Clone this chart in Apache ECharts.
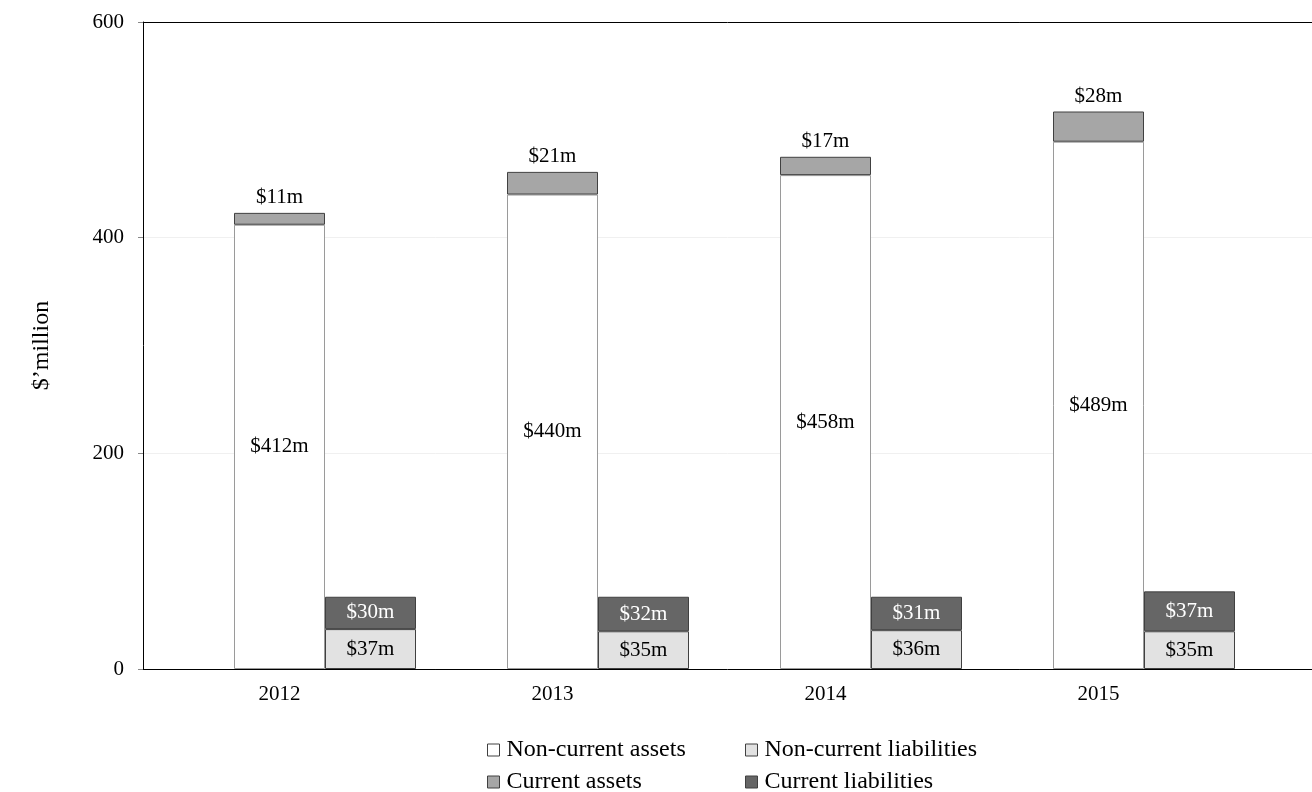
<!DOCTYPE html>
<html>
<head>
<meta charset="utf-8">
<title>Assets and liabilities</title>
<script src="https://cdn.jsdelivr.net/npm/echarts@6/dist/echarts.min.js"></script>
<style>
  html, body { margin: 0; padding: 0; background: #ffffff; }
  #chart { width: 1312px; height: 792px; }
</style>
</head>
<body>
<div id="chart"></div>
<script>
// Balance sheet summary, $ million
const years = ['2012', '2013', '2014', '2015'];
const nonCurrentAssets = [412, 440, 458, 489];
const currentAssets = [11, 21, 17, 28];
const nonCurrentLiabilities = [37, 35, 36, 35];
const currentLiabilities = [30, 32, 31, 37];
const yTicks = [0, 200, 400, 600];

const FONT = "'Liberation Serif', 'Times New Roman', serif";
const LABEL_SIZE = 21;
const LEGEND_SIZE = 24;
const BAR_W = 91;
const money = p => '$' + p.value + 'm';

const chart = echarts.init(document.getElementById('chart'));

const labelStyle = (color, position, distance) => ({
  show: true,
  position: position,
  distance: distance || 5,
  formatter: money,
  color: color,
  fontFamily: FONT,
  fontSize: LABEL_SIZE
});

// one legend box per entry, laid out as a 2 x 2 block
const legendEntry = (name, left, top) => ({
  left: left, top: top, orient: 'horizontal',
  itemWidth: 12, itemHeight: 12, icon: 'rect', padding: 0,
  textStyle: { fontFamily: FONT, fontSize: LEGEND_SIZE, lineHeight: 24, color: '#000', padding: [0, 0, 0, 2] },
  data: [{ name: name, itemStyle: { borderColor: '#404040', borderWidth: 1 } }]
});

chart.setOption({
  animation: false,
  backgroundColor: '#ffffff',
  textStyle: { fontFamily: FONT },
  grid: [
    // frame, gridlines and value axis
    { left: 143, right: 0, top: 22, bottom: 123 },
    // bar area: four year bands
    { left: 143, right: 77, top: 22, bottom: 123 }
  ],
  legend: [
    legendEntry('Non-current assets', 487, 738),
    legendEntry('Current assets', 487, 770),
    legendEntry('Non-current liabilities', 745, 738),
    legendEntry('Current liabilities', 745, 770)
  ],
  xAxis: [
    {
      gridIndex: 0, type: 'value', min: 0, max: 1, position: 'bottom',
      axisLine: { show: true, lineStyle: { color: '#000', width: 1 } },
      axisTick: { show: false }, axisLabel: { show: false }, splitLine: { show: false }
    },
    {
      gridIndex: 0, type: 'value', min: 0, max: 1, position: 'top',
      axisLine: { show: true, lineStyle: { color: '#000', width: 1 } },
      axisTick: { show: false }, axisLabel: { show: false }, splitLine: { show: false }
    },
    {
      gridIndex: 1, type: 'category', data: years,
      axisLine: { show: false }, axisTick: { show: false },
      axisLabel: { color: '#000', fontFamily: FONT, fontSize: LABEL_SIZE, margin: 15 },
      splitLine: { show: false }
    }
  ],
  yAxis: [
    {
      gridIndex: 0, type: 'value', min: yTicks[0], max: yTicks[yTicks.length - 1], interval: 200,
      name: '$\u2019million', nameLocation: 'middle', nameRotate: 90, nameGap: 89,
      nameTextStyle: { color: '#000', fontFamily: FONT, fontSize: LEGEND_SIZE },
      axisLine: { show: true, lineStyle: { color: '#000', width: 1 } },
      axisTick: { show: true, length: 5, lineStyle: { color: '#888' } },
      axisLabel: { color: '#000', fontFamily: FONT, fontSize: LABEL_SIZE, margin: 19 },
      splitLine: { show: true, lineStyle: { color: '#f0f0f0', width: 1 } }
    },
    {
      gridIndex: 1, type: 'value', min: yTicks[0], max: yTicks[yTicks.length - 1],
      show: false, splitLine: { show: false }
    }
  ],
  series: [
    {
      // empty slot left of the asset column so assets sit centred on each year
      name: 'spacer', type: 'bar', xAxisIndex: 2, yAxisIndex: 1, stack: 'spacer',
      barWidth: BAR_W, barGap: '0%', data: years.map(() => null), silent: true
    },
    {
      name: 'Non-current assets', type: 'bar', xAxisIndex: 2, yAxisIndex: 1, stack: 'assets',
      barWidth: BAR_W, barGap: '0%', data: nonCurrentAssets,
      itemStyle: { color: '#ffffff', borderColor: '#9a9a9a', borderWidth: 1 },
      label: labelStyle('#000', 'inside')
    },
    {
      name: 'Current assets', type: 'bar', xAxisIndex: 2, yAxisIndex: 1, stack: 'assets',
      barWidth: BAR_W, barGap: '0%', data: currentAssets,
      itemStyle: { color: '#a6a6a6', borderColor: '#404040', borderWidth: 1 },
      label: labelStyle('#000', 'top', 5)
    },
    {
      name: 'Non-current liabilities', type: 'bar', xAxisIndex: 2, yAxisIndex: 1, stack: 'liabilities',
      barWidth: BAR_W, barGap: '0%', data: nonCurrentLiabilities,
      itemStyle: { color: '#e2e2e2', borderColor: '#404040', borderWidth: 1 },
      label: labelStyle('#000', 'inside')
    },
    {
      name: 'Current liabilities', type: 'bar', xAxisIndex: 2, yAxisIndex: 1, stack: 'liabilities',
      barWidth: BAR_W, barGap: '0%', data: currentLiabilities,
      itemStyle: { color: '#666666', borderColor: '#404040', borderWidth: 1 },
      label: labelStyle('#ffffff', 'inside')
    }
  ]
});
</script>
</body>
</html>
